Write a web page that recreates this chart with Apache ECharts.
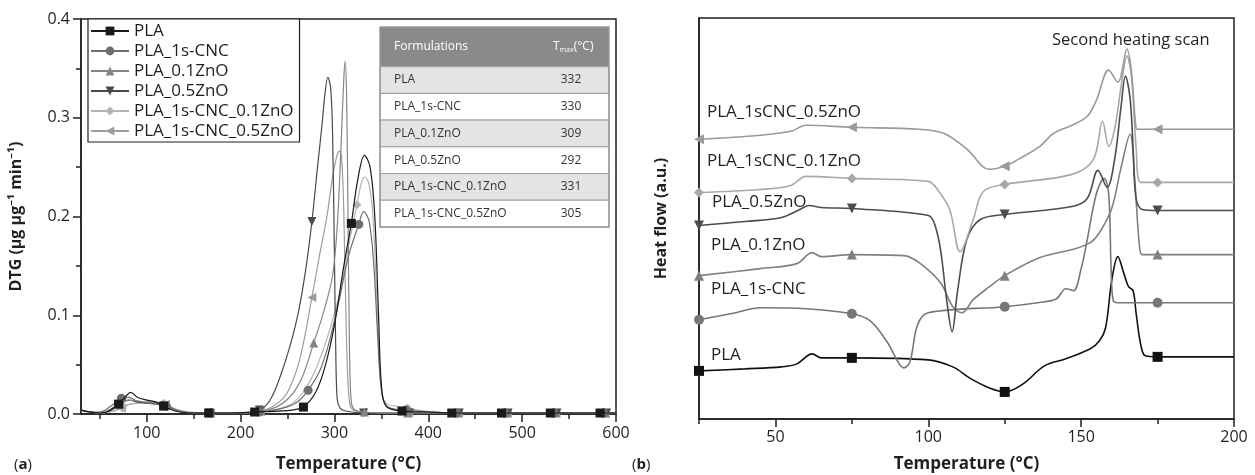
<!DOCTYPE html>
<html>
<head>
<meta charset="utf-8">
<script src="https://cdn.jsdelivr.net/npm/echarts@6/dist/echarts.min.js"></script>
<style>
html, body { margin: 0; padding: 0; background: #fff; }
#chart { width: 1255px; height: 475px; }
</style>
</head>
<body>
<div id="chart"></div>
<script>
// ---------- (a) DTG curves ----------
const dtgNames = ['PLA', 'PLA_1s-CNC', 'PLA_0.1ZnO', 'PLA_0.5ZnO', 'PLA_1s-CNC_0.1ZnO', 'PLA_1s-CNC_0.5ZnO'];

const dtgTemp_PLA = [30, 40, 50, 60, 70, 76, 83, 90, 100, 110, 118, 130, 145, 166, 190, 215, 240, 255, 267, 280, 290, 300, 310, 318, 325, 332, 338, 343, 347, 350, 355, 372, 400, 425, 450, 478, 505, 530, 555, 583, 600];
const dtg_PLA = [0.004, 0.002, 0.001, 0.003, 0.010, 0.016, 0.022, 0.017, 0.014, 0.012, 0.008, 0.003, 0.001, 0.001, 0.001, 0.002, 0.003, 0.004, 0.007, 0.022, 0.048, 0.090, 0.150, 0.193, 0.238, 0.262, 0.250, 0.200, 0.100, 0.030, 0.008, 0.003, 0.002, 0.001, 0.001, 0.001, 0.001, 0.001, 0.001, 0.001, 0.001];
const dtgMarks_PLA = [70, 118, 166, 215, 267, 318, 372, 425, 478, 530, 583];

const dtgTemp_CNC = [30, 40, 50, 62, 73, 80, 90, 100, 110, 121, 135, 150, 168, 195, 220, 245, 260, 272, 285, 295, 305, 315, 326, 331, 337, 342, 346, 350, 356, 376, 405, 430, 455, 482, 510, 534, 560, 587, 600];
const dtg_CNC = [0.004, 0.002, 0.002, 0.008, 0.016, 0.017, 0.013, 0.011, 0.010, 0.008, 0.003, 0.001, 0.001, 0.001, 0.002, 0.006, 0.012, 0.024, 0.045, 0.075, 0.115, 0.160, 0.192, 0.205, 0.195, 0.150, 0.080, 0.025, 0.008, 0.004, 0.002, 0.001, 0.001, 0.001, 0.001, 0.001, 0.001, 0.001, 0.001];
const dtgMarks_CNC = [73, 121, 168, 220, 272, 326, 376, 430, 482, 534, 587];

const dtgTemp_Z01 = [30, 40, 50, 60, 72, 80, 90, 100, 110, 120, 135, 150, 168, 195, 222, 240, 255, 266, 278, 289, 298, 303, 307, 310, 311.5, 313, 314.5, 316, 318, 322, 332, 350, 378, 405, 432, 458, 484, 510, 536, 562, 589, 600];
const dtg_Z01 = [0.004, 0.002, 0.001, 0.003, 0.010, 0.014, 0.013, 0.012, 0.011, 0.009, 0.003, 0.001, 0.001, 0.001, 0.003, 0.008, 0.020, 0.038, 0.072, 0.105, 0.140, 0.190, 0.270, 0.340, 0.357, 0.320, 0.200, 0.070, 0.012, 0.004, 0.002, 0.001, 0.001, 0.001, 0.001, 0.001, 0.001, 0.001, 0.001, 0.001, 0.001, 0.001];
const dtgMarks_Z01 = [72, 120, 168, 222, 278, 332, 378, 432, 484, 536, 589];

const dtgTemp_Z05 = [30, 40, 50, 60, 74, 82, 90, 100, 110, 119, 135, 150, 167, 195, 220, 232, 243, 253, 262, 270, 276, 282, 287, 290, 293, 296, 298, 300, 301.5, 303, 306, 312, 331, 355, 380, 405, 433, 460, 485, 510, 537, 563, 590, 600];
const dtg_Z05 = [0.004, 0.002, 0.001, 0.004, 0.012, 0.014, 0.012, 0.011, 0.010, 0.008, 0.003, 0.001, 0.001, 0.001, 0.004, 0.015, 0.040, 0.070, 0.105, 0.150, 0.195, 0.250, 0.295, 0.325, 0.341, 0.330, 0.285, 0.160, 0.060, 0.015, 0.006, 0.003, 0.001, 0.001, 0.001, 0.001, 0.001, 0.001, 0.001, 0.001, 0.001, 0.001, 0.001, 0.001];
const dtgMarks_Z05 = [74, 119, 167, 220, 276, 331, 380, 433, 485, 537, 590];

const dtgTemp_CNCZ01 = [30, 40, 50, 60, 74, 82, 92, 104, 118, 130, 145, 168, 195, 222, 250, 265, 280, 295, 305, 315, 324, 329, 332.5, 337, 341, 345, 348, 351, 356, 365, 378, 395, 420, 432, 458, 484, 510, 536, 562, 588, 600];
const dtg_CNCZ01 = [0.003, 0.002, 0.001, 0.002, 0.006, 0.010, 0.011, 0.012, 0.011, 0.005, 0.002, 0.001, 0.001, 0.002, 0.008, 0.020, 0.045, 0.085, 0.120, 0.170, 0.212, 0.235, 0.240, 0.232, 0.200, 0.120, 0.050, 0.018, 0.010, 0.008, 0.006, 0.003, 0.001, 0.001, 0.001, 0.001, 0.001, 0.001, 0.001, 0.001, 0.001];
const dtgMarks_CNCZ01 = [74, 118, 168, 222, 324, 378, 432, 484, 536, 588];

const dtgTemp_CNCZ05 = [30, 40, 50, 60, 73, 82, 92, 104, 120, 132, 145, 168, 195, 221, 238, 250, 263, 276, 284, 292, 298, 301, 304, 306, 308, 310, 313, 316, 320, 330, 350, 379, 405, 432, 458, 484, 510, 536, 562, 588, 600];
const dtg_CNCZ05 = [0.003, 0.002, 0.001, 0.002, 0.006, 0.010, 0.011, 0.012, 0.010, 0.004, 0.002, 0.001, 0.001, 0.003, 0.010, 0.022, 0.055, 0.118, 0.160, 0.200, 0.240, 0.255, 0.265, 0.266, 0.255, 0.205, 0.070, 0.012, 0.004, 0.002, 0.001, 0.001, 0.001, 0.001, 0.001, 0.001, 0.001, 0.001, 0.001, 0.001, 0.001];
const dtgMarks_CNCZ05 = [73, 120, 168, 221, 276, 330, 379, 432, 484, 536, 588];

// inset table
const tableNames = ['PLA', 'PLA_1s-CNC', 'PLA_0.1ZnO', 'PLA_0.5ZnO', 'PLA_1s-CNC_0.1ZnO', 'PLA_1s-CNC_0.5ZnO'];
const tableTmax = [332, 330, 309, 292, 331, 305];

const dtgTickLabels = [100, 200, 300, 400, 500, 600];
const dtgMinorTicks = [50, 150, 250, 350, 450, 550];

// ---------- (b) DSC second heating (heat flow, a.u.) ----------
const dscMarks = [25, 75, 125, 175];

const dscTemp_PLA = [25, 40, 52, 57, 62, 65, 75, 100, 108, 114, 120, 125, 131, 138, 145, 153, 156, 158, 160, 162, 164, 165.5, 167, 168, 169.5, 171, 175, 200];
const dsc_PLA = [48, 50, 52, 55, 65, 61, 61, 59, 52, 40, 31, 27, 35, 53, 60, 70, 78, 91, 138, 162, 145, 132, 128, 105, 74, 63, 62, 62];

const dscTemp_CNC = [25, 37, 45, 60, 75, 81, 86.5, 90.5, 92, 94, 96.5, 100, 125, 138, 142, 145, 147.5, 150, 152, 155, 157.5, 159, 159.8, 160.5, 162, 175, 200];
const dsc_CNC = [99, 106, 111, 110, 105, 98, 77, 55, 51, 57, 94, 106, 112, 117, 120, 130, 128, 150, 179, 225, 240, 225, 150, 118, 116, 116, 116];

const dscTemp_Z01 = [25, 45, 57, 62, 65, 75, 92, 97, 104, 108, 111, 114.7, 120, 125, 136.5, 147, 153, 156, 160, 163, 166, 167.5, 169, 170, 175, 200];
const dsc_Z01 = [143, 150, 155, 166, 162, 164, 163, 156, 136, 112, 106, 119, 132, 143, 161, 169, 176, 186, 210, 250, 284, 240, 175, 164, 164, 164];

const dscTemp_Z05 = [25, 40, 52, 58, 61, 65, 75, 100, 102, 104, 106, 107.8, 109.5, 112.6, 117, 125, 147, 152, 155.5, 158.5, 161, 163, 164.5, 166, 167, 168, 170, 175, 200];
const dsc_Z05 = [193, 197, 201, 209, 213, 211, 210, 203, 195, 169, 119, 87, 126, 179, 199, 204, 212, 220, 248, 231, 260, 310, 342, 320, 270, 219, 209, 208, 208];

const dscTemp_CNCZ01 = [25, 45, 55, 60, 75, 100, 103, 107, 110.4, 114.7, 118, 125, 147, 154, 157, 159, 161, 163, 165, 166.5, 168, 169.5, 175, 200];
const dsc_CNCZ01 = [226, 229, 233, 242, 240, 237, 229, 209, 167, 199, 227, 234, 244, 259, 297, 272, 290, 330, 362, 340, 270, 236, 236, 236];

const dscTemp_CNCZ05 = [25, 45, 55, 60, 75, 97, 105, 112.7, 120, 125, 130, 136.5, 141, 147, 152, 155, 159, 162, 165, 166.5, 168, 169, 175, 200];
const dsc_CNCZ05 = [279, 283, 287, 293, 291, 289, 285, 269, 249, 252, 260, 272, 285, 293, 302, 318, 348, 336, 369, 345, 290, 289, 289, 289];

const dscLabels = ['PLA_1sCNC_0.5ZnO', 'PLA_1sCNC_0.1ZnO', 'PLA_0.5ZnO', 'PLA_0.1ZnO', 'PLA_1s-CNC', 'PLA'];

const dscTickLabels = [50, 100, 150, 200];
const dscMinorTicks = [25, 75, 125, 175];

// ---------- styling ----------
const FONT = "'Open Sans', 'Noto Sans', sans-serif";
const INK = '#231f20';
const COLORS = ['#1a1a1a', '#6e6e6e', '#858585', '#4a4a4a', '#b3b3b3', '#9c9c9c'];
const DSC_COLORS = ['#111111', '#777777', '#808080', '#4d4d4d', '#a8a8a8', '#9a9a9a'];
const SYMBOLS = ['rect', 'circle', 'triangle', 'triangle', 'diamond', 'triangle'];
const ROTATE = [0, 0, 0, 180, 0, 90];

function lineSeries(name, temps, vals, marks, idx, panel) {
    const left = panel === 'a';
    const color = left ? COLORS[idx] : DSC_COLORS[idx];
    const size = left ? 9 : 10;
    return {
        name: name,
        type: 'line',
        xAxisIndex: left ? 0 : 2,
        yAxisIndex: left ? 0 : 1,
        data: temps.map((t, i) => [t, vals[i]]),
        smooth: 0.35,
        showSymbol: true,
        symbol: SYMBOLS[idx],
        symbolRotate: ROTATE[idx],
        symbolSize: v => (marks.includes(v[0]) ? size : 0),
        lineStyle: { color: color, width: left ? 1.2 : 1.6 },
        itemStyle: { color: color },
        emphasis: { disabled: true },
        z: left ? 2 + (5 - idx) : 2
    };
}

const axisLineStyle = { color: INK, width: 1.5 };
const tickFont = { fontFamily: FONT, fontSize: 16, color: INK };
const titleFont = { fontFamily: FONT, fontSize: 17, fontWeight: 'bold', color: INK };

// table graphic
const tableChildren = [];
const rowH = 26.7, headH = 39.7, tableW = 229;
tableChildren.push({ type: 'rect', shape: { x: 0, y: 0, width: tableW, height: headH }, style: { fill: '#8a8a8a' } });
tableNames.forEach((n, i) => {
    tableChildren.push({
        type: 'rect',
        shape: { x: 0, y: headH + i * rowH, width: tableW, height: rowH },
        style: { fill: i % 2 === 0 ? '#e4e4e4' : '#ffffff', stroke: '#9d9d9d', lineWidth: 1 }
    });
    tableChildren.push({
        type: 'text', x: 14, y: headH + i * rowH + rowH / 2,
        style: { text: n, fontFamily: FONT, fontSize: 12, fill: '#333', verticalAlign: 'middle' }
    });
    tableChildren.push({
        type: 'text', x: 191, y: headH + i * rowH + rowH / 2,
        style: { text: String(tableTmax[i]), fontFamily: FONT, fontSize: 12, fill: '#333', align: 'center', verticalAlign: 'middle' }
    });
});
tableChildren.push({
    type: 'text', x: 14, y: headH / 2,
    style: { text: 'Formulations', fontFamily: FONT, fontSize: 12, fill: '#fff', verticalAlign: 'middle' }
});
tableChildren.push({
    type: 'text', x: 173, y: headH / 2,
    style: {
        text: '{t|T}{s|max}{t|(°C)}', verticalAlign: 'middle',
        rich: {
            t: { fontFamily: FONT, fontSize: 12, fill: '#fff', lineHeight: 16 },
            s: { fontFamily: FONT, fontSize: 7, fill: '#fff', lineHeight: 16, padding: [7, 0, 0, 0] }
        }
    }
});
tableChildren.push({
    type: 'rect', shape: { x: 0, y: 0, width: tableW, height: headH + 6 * rowH },
    style: { fill: 'none', stroke: '#9a9a9a', lineWidth: 1.5 }
});

// panel (b) curve labels
const dscLabelPos = [[707, 112], [707, 161], [712, 202], [711, 245], [711, 289], [711, 355]];
const labelGraphics = dscLabels.map((t, i) => ({
    type: 'text', x: dscLabelPos[i][0], y: dscLabelPos[i][1],
    style: { text: t, fontFamily: FONT, fontSize: 17, fill: INK, verticalAlign: 'middle' }
}));

const panelLetter = (x, letter) => ({
    type: 'text', x: x, y: 465,
    style: {
        text: '{p|(}{b|' + letter + '}{p|)}', verticalAlign: 'middle',
        rich: {
            p: { fontFamily: FONT, fontSize: 15, fill: INK },
            b: { fontFamily: FONT, fontSize: 15, fontWeight: 'bold', fill: INK }
        }
    }
});

const option = {
    animation: false,
    backgroundColor: '#fff',
    grid: [
        { left: 81, top: 19, width: 535, height: 395, show: true, borderColor: INK, borderWidth: 1.5, outerBoundsMode: 'none' },
        { left: 699, top: 18, width: 535, height: 401, show: true, borderColor: INK, borderWidth: 1.5, outerBoundsMode: 'none' }
    ],
    legend: {
        data: dtgNames,
        orient: 'vertical',
        left: 88, top: 19,
        itemWidth: 38, itemHeight: 11, itemGap: 0,
        padding: [2, 6, 1, 2],
        borderColor: INK, borderWidth: 1.2, borderRadius: 0,
        backgroundColor: '#fff',
        selectedMode: false,
        textStyle: { fontFamily: FONT, fontSize: 17, color: INK, lineHeight: 20 }
    },
    xAxis: [
        {
            gridIndex: 0, type: 'value', min: 30, max: 600, position: 'bottom',
            axisLine: { lineStyle: axisLineStyle },
            axisTick: { customValues: dtgTickLabels, length: 8, lineStyle: axisLineStyle },
            axisLabel: Object.assign({ customValues: dtgTickLabels, margin: 11 }, tickFont),
            splitLine: { show: false },
            name: 'Temperature (°C)', nameLocation: 'middle', nameGap: 42, nameTextStyle: titleFont
        },
        {
            gridIndex: 0, type: 'value', min: 30, max: 600, position: 'bottom',
            axisLine: { show: false }, axisLabel: { show: false }, splitLine: { show: false },
            axisTick: { customValues: dtgMinorTicks, length: 5, lineStyle: axisLineStyle }
        },
        {
            gridIndex: 1, type: 'value', min: 25, max: 200, position: 'bottom',
            axisLine: { lineStyle: axisLineStyle },
            axisTick: { customValues: dscTickLabels, length: 8, lineStyle: axisLineStyle },
            axisLabel: Object.assign({ customValues: dscTickLabels, margin: 10 }, tickFont),
            splitLine: { show: false },
            name: 'Temperature (°C)', nameLocation: 'middle', nameGap: 37, nameTextStyle: titleFont
        },
        {
            gridIndex: 1, type: 'value', min: 25, max: 200, position: 'bottom',
            axisLine: { show: false }, axisLabel: { show: false }, splitLine: { show: false },
            axisTick: { customValues: dscMinorTicks, length: 5, lineStyle: axisLineStyle }
        }
    ],
    yAxis: [
        {
            gridIndex: 0, type: 'value', min: 0, max: 0.4, interval: 0.1,
            axisLine: { show: true, lineStyle: axisLineStyle },
            axisTick: { length: 8, lineStyle: axisLineStyle },
            minorTick: { show: true, splitNumber: 2, length: 5, lineStyle: axisLineStyle },
            axisLabel: Object.assign({ formatter: v => v.toFixed(1), margin: 11 }, tickFont),
            splitLine: { show: false }, minorSplitLine: { show: false },
            name: 'DTG (μg μg⁻¹ min⁻¹)', nameLocation: 'middle', nameGap: 57,
            nameTextStyle: Object.assign({}, titleFont, { fontSize: 16 })
        },
        {
            gridIndex: 1, type: 'value', min: 0, max: 400,
            axisLine: { show: true, lineStyle: axisLineStyle },
            axisTick: { show: false }, axisLabel: { show: false }, splitLine: { show: false },
            name: 'Heat flow (a.u.)', nameLocation: 'middle', nameGap: 30,
            nameTextStyle: Object.assign({}, titleFont, { fontSize: 16 })
        }
    ],
    series: [
        lineSeries(dtgNames[0], dtgTemp_PLA, dtg_PLA, dtgMarks_PLA, 0, 'a'),
        lineSeries(dtgNames[1], dtgTemp_CNC, dtg_CNC, dtgMarks_CNC, 1, 'a'),
        lineSeries(dtgNames[2], dtgTemp_Z01, dtg_Z01, dtgMarks_Z01, 2, 'a'),
        lineSeries(dtgNames[3], dtgTemp_Z05, dtg_Z05, dtgMarks_Z05, 3, 'a'),
        lineSeries(dtgNames[4], dtgTemp_CNCZ01, dtg_CNCZ01, dtgMarks_CNCZ01, 4, 'a'),
        lineSeries(dtgNames[5], dtgTemp_CNCZ05, dtg_CNCZ05, dtgMarks_CNCZ05, 5, 'a'),
        lineSeries('dsc ' + dtgNames[0], dscTemp_PLA, dsc_PLA, dscMarks, 0, 'b'),
        lineSeries('dsc ' + dtgNames[1], dscTemp_CNC, dsc_CNC, dscMarks, 1, 'b'),
        lineSeries('dsc ' + dtgNames[2], dscTemp_Z01, dsc_Z01, dscMarks, 2, 'b'),
        lineSeries('dsc ' + dtgNames[3], dscTemp_Z05, dsc_Z05, dscMarks, 3, 'b'),
        lineSeries('dsc ' + dtgNames[4], dscTemp_CNCZ01, dsc_CNCZ01, dscMarks, 4, 'b'),
        lineSeries('dsc ' + dtgNames[5], dscTemp_CNCZ05, dsc_CNCZ05, dscMarks, 5, 'b')
    ],
    graphic: [
        { type: 'group', x: 380, y: 27, z: 10, children: tableChildren },
        ...labelGraphics,
        {
            type: 'text', x: 1052, y: 40,
            style: { text: 'Second heating scan', fontFamily: FONT, fontSize: 16.5, fill: INK, verticalAlign: 'middle' }
        },
        panelLetter(14, 'a'),
        panelLetter(632, 'b')
    ]
};

const chart = echarts.init(document.getElementById('chart'));
chart.setOption(option);
</script>
</body>
</html>
